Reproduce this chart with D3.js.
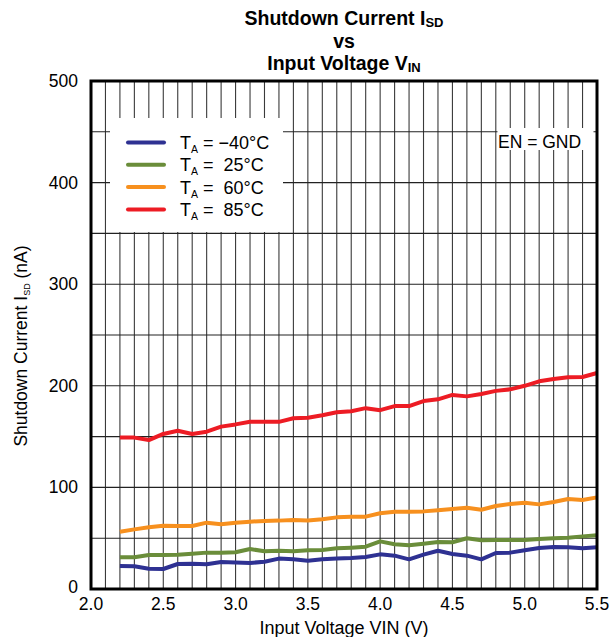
<!DOCTYPE html>
<html>
<head>
<meta charset="utf-8">
<script src="https://cdn.jsdelivr.net/npm/d3@7"></script>
<style>
  html, body { margin: 0; padding: 0; background: #fff; }
  svg text { font-family: "Liberation Sans", Arial, Helvetica, sans-serif; fill: #000; }
</style>
</head>
<body>
<svg id="chart" width="611" height="637"></svg>
<script>
// Input voltage sweep (V)
const vin = [2.2, 2.3, 2.4, 2.5, 2.6, 2.7, 2.8, 2.9, 3.0, 3.1,
             3.2, 3.3, 3.4, 3.5, 3.6, 3.7, 3.8, 3.9, 4.0, 4.1,
             4.2, 4.3, 4.4, 4.5, 4.6, 4.7, 4.8, 4.9, 5.0, 5.1,
             5.2, 5.3, 5.4, 5.5];

// Shutdown current (nA) per ambient temperature
const isdM40 = [22.6, 22.3, 20, 19.7, 24.6, 24.9, 24.3, 26.6, 26.2, 25.6,
                26.9, 29.9, 29.2, 27.9, 29.2, 29.9, 30.5, 31.5, 34.1, 32.8,
                29.2, 33.8, 37.7, 34.4, 32.8, 29.2, 35.4, 35.8, 38.1, 40.4,
                41.3, 41, 40, 41];
const isd25 = [31.2, 31.2, 33.5, 33.5, 33.8, 34.8, 35.8, 35.8, 36.1, 39.4,
               37.1, 37.7, 37.1, 38.1, 38.4, 40, 40.7, 41.7, 46.9, 44,
               43, 44.6, 46.3, 46, 49.9, 47.9, 48.2, 48.2, 48.2, 49.2,
               49.9, 50.5, 51.8, 52.8];
const isd60 = [56.4, 58.7, 60.7, 62.3, 62, 62, 65.3, 63.7, 65.3, 66.3,
               67, 67.3, 68, 67.5, 68.6, 70.5, 71.2, 71.2, 74.5, 76.1,
               76.1, 76.4, 77.4, 78.7, 80, 78, 81.7, 83.7, 85, 83.3,
               85.6, 88.6, 87.6, 90.2];
const isd85 = [149, 149, 146.6, 152.6, 155.8, 152.6, 154.8, 159.8, 162, 164.7,
               164.7, 164.5, 168, 168.6, 171, 174, 175, 178, 176, 180,
               180, 185, 186.7, 191, 189.6, 192, 195, 196.5, 200, 204.4,
               206.7, 208.4, 208.7, 212.6];

const tempLabels = ["\u221240\u00b0C", " 25\u00b0C", " 60\u00b0C", " 85\u00b0C"];
const seriesColors = ["#2e3192", "#6a8d3a", "#f7901e", "#ed1c24"];
const seriesValues = [isdM40, isd25, isd60, isd85];

const xTicks = [2.0, 2.5, 3.0, 3.5, 4.0, 4.5, 5.0, 5.5];
const yTicks = [0, 100, 200, 300, 400, 500];
const xGrid = [2.1, 2.2, 2.3, 2.4, 2.5, 2.6, 2.7, 2.8, 2.9, 3.0, 3.1, 3.2, 3.3, 3.4,
               3.5, 3.6, 3.7, 3.8, 3.9, 4.0, 4.1, 4.2, 4.3, 4.4, 4.5, 4.6, 4.7, 4.8,
               4.9, 5.0, 5.1, 5.2, 5.3, 5.4];
const yGrid = [50, 100, 150, 200, 250, 300, 350, 400, 450];

const svg = d3.select("#chart");
const plot = { left: 91, right: 597, top: 81, bottom: 589 };

const x = d3.scaleLinear().domain([2.0, 5.5]).range([plot.left, plot.right]);
const y = d3.scaleLinear().domain([0, 500]).range([plot.bottom, plot.top]);

// Grid
const grid = svg.append("g");
grid.selectAll("line.vx").data(xGrid).join("line")
  .attr("x1", d => x(d)).attr("x2", d => x(d))
  .attr("y1", plot.top).attr("y2", plot.bottom)
  .attr("stroke", "#3a3a3a").attr("stroke-width", 1.1);
grid.selectAll("line.hy").data(yGrid).join("line")
  .attr("x1", plot.left).attr("x2", plot.right)
  .attr("y1", d => y(d)).attr("y2", d => y(d))
  .attr("stroke", "#222").attr("stroke-width", 1.1);

// Legend panel and condition note sit on white boxes over the grid
svg.append("rect").attr("x", 110).attr("y", 118).attr("width", 173).attr("height", 114)
  .attr("fill", "#fff");
svg.append("rect").attr("x", 497.5).attr("y", 128).attr("width", 96).attr("height", 22)
  .attr("fill", "#fff");
svg.append("text").attr("x", 498).attr("y", 148).attr("font-size", 17.5)
  .text("EN = GND");

// Curves
const line = d3.line().x((d, i) => x(vin[i])).y(d => y(d));
svg.append("g").selectAll("path").data(seriesValues).join("path")
  .attr("d", d => line(d))
  .attr("fill", "none")
  .attr("stroke", (d, i) => seriesColors[i])
  .attr("stroke-width", 4)
  .attr("stroke-linejoin", "round");

// Legend entries
const leg = svg.append("g");
tempLabels.forEach((lab, i) => {
  const cy = 142.5 + i * 22.3;
  leg.append("line").attr("x1", 128).attr("x2", 164).attr("y1", cy).attr("y2", cy)
    .attr("stroke", seriesColors[i]).attr("stroke-width", 4).attr("stroke-linecap", "round");
  const t = leg.append("text").attr("x", 180).attr("y", cy + 6.5).attr("font-size", 18)
    .attr("xml:space", "preserve").style("white-space", "pre");
  t.append("tspan").text("T");
  t.append("tspan").attr("font-size", 10.5).attr("dy", 4).text("A");
  t.append("tspan").attr("dy", -4).text(" = " + lab);
});

// Frame
svg.append("rect").attr("x", plot.left).attr("y", plot.top)
  .attr("width", plot.right - plot.left).attr("height", plot.bottom - plot.top)
  .attr("fill", "none").attr("stroke", "#000").attr("stroke-width", 3);

// Tick labels
svg.append("g").selectAll("text").data(yTicks).join("text")
  .attr("x", 78).attr("y", d => y(d) + (d === 0 ? 4 : 6))
  .attr("text-anchor", "end").attr("font-size", 17.5)
  .text(d => d3.format("d")(d));
svg.append("g").selectAll("text").data(xTicks).join("text")
  .attr("x", d => x(d)).attr("y", 610)
  .attr("text-anchor", "middle").attr("font-size", 17.5)
  .text(d => d3.format(".1f")(d));

// Axis titles
svg.append("text").attr("x", x(3.75)).attr("y", 634).attr("text-anchor", "middle")
  .attr("font-size", 18).text("Input Voltage VIN (V)");
const yt = svg.append("text").attr("transform", "translate(27,346) rotate(-90)")
  .attr("text-anchor", "middle").attr("font-size", 17.5);
yt.append("tspan").text("Shutdown Current I");
yt.append("tspan").attr("font-size", 9).attr("dy", 3).text("SD");
yt.append("tspan").attr("dy", -3).text(" (nA)");

// Three-line title
const tx = x(3.75);
const titleSize = 19.5, subSize = 13;
const t1 = svg.append("text").attr("x", tx).attr("y", 24.5).attr("text-anchor", "middle")
  .attr("font-size", titleSize).attr("font-weight", "bold");
t1.append("tspan").text("Shutdown Current I");
t1.append("tspan").attr("font-size", subSize).attr("dy", 2).text("SD");
svg.append("text").attr("x", tx).attr("y", 47.5).attr("text-anchor", "middle")
  .attr("font-size", titleSize).attr("font-weight", "bold").text("vs");
const t3 = svg.append("text").attr("x", tx).attr("y", 70).attr("text-anchor", "middle")
  .attr("font-size", titleSize).attr("font-weight", "bold");
t3.append("tspan").text("Input Voltage V");
t3.append("tspan").attr("font-size", subSize).attr("dy", 2).text("IN");
</script>
</body>
</html>
